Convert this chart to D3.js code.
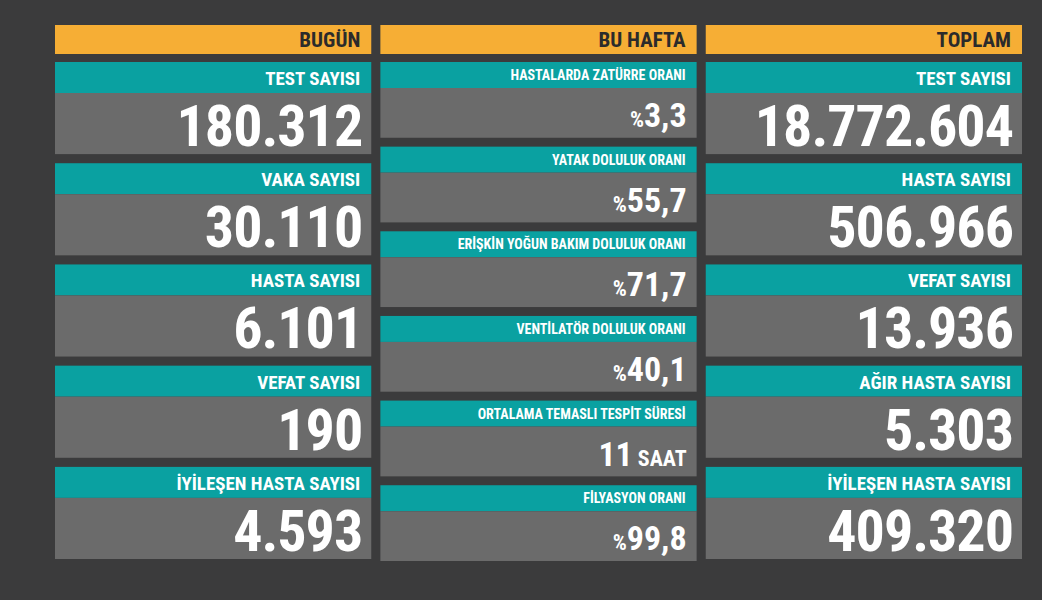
<!DOCTYPE html>
<html><head><meta charset="utf-8">
<script src="https://cdn.jsdelivr.net/npm/d3@7"></script>
<style>
body{margin:0;background:#3b3b3c;}
text{font-family:"Liberation Sans Narrow","Roboto Condensed","DejaVu Sans Condensed",sans-serif;font-weight:bold;}
</style></head><body>
<svg id="c" width="1042" height="600"></svg>
<script>
// headers
const headers = ["BUGÜN", "BU HAFTA", "TOPLAM"];
// column 1 — today
const todayLabels = ["TEST SAYISI", "VAKA SAYISI", "HASTA SAYISI", "VEFAT SAYISI", "İYİLEŞEN HASTA SAYISI"];
const todayValues = ["180.312", "30.110", "6.101", "190", "4.593"];
// column 2 — this week
const weekLabels = ["HASTALARDA ZATÜRRE ORANI", "YATAK DOLULUK ORANI", "ERİŞKİN YOĞUN BAKIM DOLULUK ORANI",
  "VENTİLATÖR DOLULUK ORANI", "ORTALAMA TEMASLI TESPİT SÜRESİ", "FİLYASYON ORANI"];
const weekPrefix = ["%", "%", "%", "%", "", "%"];
const weekValues = ["3,3", "55,7", "71,7", "40,1", "11", "99,8"];
const weekSuffix = ["", "", "", "", " SAAT", ""];
// column 3 — total
const totalLabels = ["TEST SAYISI", "HASTA SAYISI", "VEFAT SAYISI", "AĞIR HASTA SAYISI", "İYİLEŞEN HASTA SAYISI"];
const totalValues = ["18.772.604", "506.966", "13.936", "5.303", "409.320"];

const svg = d3.select("#c");
const orange = "#f6ae35", teal = "#0aa1a1", grey = "#6b6b6b";

const colX = d3.scaleBand().domain(d3.range(3)).range([55, 1022]).paddingInner(0.028).paddingOuter(0);
const w = colX.bandwidth();

headers.forEach((h, i) => {
  const x = colX(i);
  svg.append("rect").attr("x", x).attr("y", 25).attr("width", w).attr("height", 29).attr("fill", orange);
  svg.append("text").attr("x", x + w - 11).attr("y", 47).attr("text-anchor", "end")
    .attr("font-size", 21).attr("fill", "#2b2b2b").text(h);
});

function bigColumn(ci, labels, values) {
  const y = d3.scaleBand().domain(d3.range(labels.length)).range([62, 559]).paddingInner(0.09).paddingOuter(0);
  const x = colX(ci);
  labels.forEach((l, i) => {
    const y0 = y(i), h = y.bandwidth(), lh = 31;
    svg.append("rect").attr("x", x).attr("y", y0).attr("width", w).attr("height", lh).attr("fill", teal);
    svg.append("rect").attr("x", x).attr("y", y0 + lh).attr("width", w).attr("height", h - lh).attr("fill", grey);
    svg.append("text").attr("x", x + w - 11).attr("y", y0 + 23).attr("text-anchor", "end")
      .attr("font-size", 19).attr("fill", "#fff").text(l);
    svg.append("text").attr("x", x + w - 9).attr("y", y0 + lh + 53).attr("text-anchor", "end")
      .attr("font-size", 58).attr("letter-spacing", -1).attr("fill", "#fff").text(values[i]);
  });
}
bigColumn(0, todayLabels, todayValues);
bigColumn(2, totalLabels, totalValues);

// middle column
{
  const y = d3.scaleBand().domain(d3.range(weekLabels.length)).range([62, 561]).paddingInner(0.105).paddingOuter(0);
  const x = colX(1);
  weekLabels.forEach((l, i) => {
    const y0 = y(i), h = y.bandwidth(), lh = 26;
    svg.append("rect").attr("x", x).attr("y", y0).attr("width", w).attr("height", lh).attr("fill", teal);
    svg.append("rect").attr("x", x).attr("y", y0 + lh).attr("width", w).attr("height", h - lh).attr("fill", grey);
    svg.append("text").attr("x", x + w - 11).attr("y", y0 + 18).attr("text-anchor", "end")
      .attr("font-size", 14).attr("fill", "#fff").text(l);
    const t = svg.append("text").attr("x", x + w - 10).attr("y", y0 + lh + 39).attr("text-anchor", "end")
      .attr("fill", "#fff");
    if (weekPrefix[i]) t.append("tspan").attr("font-size", 22).text(weekPrefix[i]);
    t.append("tspan").attr("font-size", 34).text(weekValues[i]);
    if (weekSuffix[i]) t.append("tspan").attr("font-size", 22).text(weekSuffix[i]);
  });
}
</script></body></html>
